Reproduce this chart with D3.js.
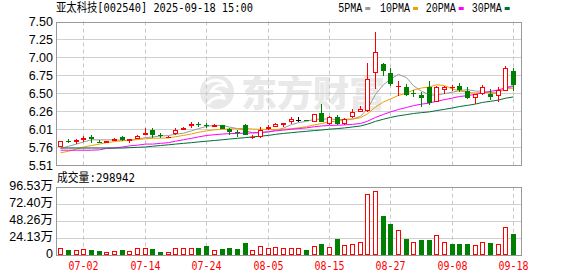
<!DOCTYPE html>
<html>
<head>
<meta charset="utf-8">
<script src="https://cdn.jsdelivr.net/npm/d3@7"></script>
<style>body{margin:0;background:#fff}</style>
</head>
<body>
<div class="canvas"></div>
<script>
// trading days 06-27 .. 09-18
const dates = ['06-27','06-30',
  '07-01','07-02','07-03','07-04','07-07','07-08','07-09','07-10','07-11','07-14','07-15','07-16','07-17','07-18','07-21','07-22','07-23','07-24','07-25','07-28','07-29','07-30','07-31',
  '08-01','08-04','08-05','08-06','08-07','08-08','08-11','08-12','08-13','08-14','08-15','08-18','08-19','08-20','08-21','08-22','08-25','08-26','08-27','08-28','08-29',
  '09-01','09-02','09-03','09-04','09-05','09-08','09-09','09-10','09-11','09-12','09-15','09-16','09-17','09-18']

const opens  = [5.76,5.845,5.83,5.85,5.90,5.835,5.81,5.86,5.90,5.855,5.87,5.92,5.99,5.92,5.895,5.94,6.015,6.045,6.075,6.07,
  6.055,6.06,6.015,5.97,6.07,5.895,5.90,6.025,6.04,6.085,6.10,6.14,6.135,6.10,6.23,6.08,6.17,6.08,6.17,6.25,
  6.26,6.78,6.91,6.79,6.60,6.585,6.515,6.485,6.59,6.385,6.555,6.585,6.60,6.54,6.435,6.49,6.50,6.46,6.54,6.815]
const highs  = [5.84,5.87,5.875,5.91,5.92,5.85,5.845,5.89,5.91,5.875,5.93,6.03,6.03,5.95,5.91,6.03,6.04,6.10,6.10,6.09,
  6.08,6.065,6.02,6.00,6.085,5.925,6.04,6.065,6.09,6.09,6.17,6.175,6.14,6.22,6.35,6.19,6.20,6.16,6.28,6.33,
  6.93,7.35,6.93,6.86,6.68,6.64,6.55,6.525,6.67,6.61,6.60,6.62,6.645,6.59,6.49,6.62,6.57,6.59,6.885,6.85]
const lows   = [5.76,5.81,5.805,5.83,5.82,5.81,5.81,5.85,5.845,5.81,5.865,5.92,5.89,5.885,5.88,5.93,5.99,6.02,6.035,6.03,
  6.04,6.01,5.93,5.90,5.92,5.875,5.89,6.00,6.04,6.035,6.075,6.10,6.115,6.10,6.10,6.07,6.065,6.07,6.165,6.25,
  6.25,6.57,6.74,6.60,6.46,6.46,6.45,6.31,6.34,6.385,6.495,6.54,6.52,6.42,6.355,6.48,6.41,6.38,6.54,6.53]
const closes = [5.84,5.84,5.86,5.89,5.87,5.83,5.84,5.87,5.85,5.865,5.91,5.95,5.92,5.915,5.90,6.00,6.02,6.08,6.07,6.06,
  6.065,6.015,5.97,5.965,5.93,5.905,6.00,6.035,6.08,6.09,6.145,6.14,6.12,6.22,6.10,6.17,6.08,6.15,6.24,6.28,
  6.70,7.075,6.82,6.63,6.61,6.475,6.505,6.445,6.375,6.59,6.59,6.59,6.55,6.445,6.49,6.59,6.45,6.55,6.85,6.62]

// volume in 万 shares, and bar colour direction (1 red, -1 green)
const volumes = [9.4,7.1,7.1,8.0,7.1,5.7,4.2,5.7,7.1,5.7,9.4,9.4,8.5,4.2,4.2,10.4,9.4,9.4,9.4,12.7,
  7.1,8.5,9.4,8.5,16.5,7.1,12.2,9.9,10.8,9.9,9.9,9.9,7.1,12.2,15.5,10.8,22.6,13.7,15.5,18.0,
  86.2,90.0,55.1,43.8,35.8,22.6,18.0,21.2,21.2,27.8,18.0,15.5,15.5,15.5,13.7,18.0,17.0,15.1,39.1,29.8942]
const volDir = [1,-1,1,1,-1,-1,1,1,-1,1,1,1,-1,-1,1,1,1,1,-1,-1,
  1,-1,-1,-1,-1,1,1,1,1,1,1,1,-1,1,-1,1,-1,1,1,1,
  1,1,-1,-1,1,-1,1,-1,-1,1,1,-1,-1,-1,1,1,-1,1,1,-1]

// moving averages as drawn
const ma5  = [5.74,5.77,5.80,5.83,5.86,5.858,5.858,5.86,5.852,5.851,5.867,5.889,5.899,5.912,5.919,5.937,5.951,5.983,6.014,6.046,
  6.059,6.058,6.036,6.015,5.989,5.957,5.954,5.967,5.99,6.022,6.07,6.098,6.115,6.143,6.145,6.15,6.138,6.144,6.148,6.184,
  6.29,6.489,6.623,6.701,6.767,6.722,6.608,6.533,6.482,6.478,6.501,6.52,6.541,6.555,6.535,6.535,6.505,6.505,6.586,6.612]
const ma10 = [5.68,5.70,5.73,5.76,5.78,5.80,5.82,5.835,5.845,5.856,5.863,5.874,5.880,5.882,5.885,5.902,5.920,5.941,5.963,5.983,
  5.998,6.005,6.010,6.015,6.018,6.008,6.006,6.002,6.003,6.006,6.014,6.026,6.041,6.067,6.084,6.110,6.118,6.130,6.146,6.165,
  6.220,6.314,6.384,6.425,6.476,6.506,6.549,6.578,6.592,6.623,6.612,6.564,6.537,6.519,6.507,6.518,6.513,6.523,6.571,6.574]
const ma20 = [5.715,5.715,5.715,5.715,5.715,5.72,5.74,5.745,5.76,5.775,5.785,5.80,5.80,5.81,5.82,5.84,5.86,5.88,5.90,5.919,
  5.930,5.939,5.945,5.948,5.951,5.955,5.963,5.971,5.983,5.994,6.006,6.015,6.025,6.041,6.051,6.059,6.062,6.066,6.074,6.085,
  6.117,6.170,6.212,6.246,6.280,6.308,6.333,6.354,6.369,6.394,6.416,6.439,6.460,6.472,6.491,6.512,6.531,6.551,6.581,6.598]
const ma30 = [5.745,5.745,5.745,5.745,5.745,5.745,5.745,5.745,5.745,5.75,5.755,5.76,5.77,5.78,5.79,5.80,5.81,5.82,5.83,5.84,
  5.85,5.86,5.87,5.88,5.89,5.90,5.91,5.92,5.935,5.948,5.958,5.968,5.977,5.988,5.995,6.007,6.015,6.024,6.037,6.051,
  6.077,6.115,6.145,6.169,6.192,6.208,6.224,6.236,6.247,6.264,6.282,6.301,6.321,6.337,6.355,6.378,6.393,6.410,6.436,6.454]

const priceTicks = ['5.51','5.76','6.01','6.26','6.50','6.75','7.00','7.25','7.50']
const volTicks = ['0','24.13万','48.26万','72.40万','96.53万']
const dateTicks = ['07-02','07-14','07-24','08-05','08-15','08-27','09-08','09-18']
const maNames = ['5PMA','10PMA','20PMA','30PMA']

const RED = '#ff0000', GREEN = '#008000'
const maColors = ['#9a9a9a','#f0a000','#ff00ff','#006f35']

const W = 578, H = 276
const left = 56, right = 522
const pTop = 21.5, pBot = 165, vTop = 186.7, vBot = 255

const svg = d3.select('.canvas').append('svg')
    .attr('width', W)
    .attr('height', H)
    .style('display', 'block')

svg.append('rect').attr('width', W).attr('height', H).attr('fill', '#fff')

const x = d3.scaleBand().domain(dates).range([56.5, 517]).paddingInner(0)
const cx = d => Math.round(x(d) + x.bandwidth() / 2) + 0.5
const y = d3.scaleLinear().domain([5.51, 7.50]).range([pBot, pTop])
const yv = d3.scaleLinear().domain([0, 96.53]).range([vBot, vTop])
const crisp = v => Math.round(v) + 0.5

// watermark
const wm = svg.append('g').attr('opacity', 0.55)
wm.append('circle').attr('cx', 217).attr('cy', 92).attr('r', 17).attr('fill', '#d8d8d8')
wm.append('path').attr('d', 'M206,84 C214,78 224,80 226,86 C220,84 214,86 211,92 C216,90 222,92 224,98 C216,96 210,100 208,104')
    .attr('fill', 'none').attr('stroke', '#fff').attr('stroke-width', 3)
wm.append('text')
    .attr('x', 241).attr('y', 107)
    .attr('font-family', '"Noto Sans CJK SC", sans-serif')
    .attr('font-weight', 900)
    .attr('font-size', 36)
    .attr('fill', '#d8d8d8')
    .attr('textLength', 144)
    .text('东方财富')

// horizontal gridlines
const pStep = (7.50 - 5.51) / 8
priceTicks.forEach((t, k) => {
  const yy = crisp(y(5.51 + k * pStep))
  if (k > 0 && k < 8) {
    svg.append('line').attr('x1', left).attr('x2', right).attr('y1', yy).attr('y2', yy)
      .attr('stroke', '#d0d0d0').attr('stroke-width', 1)
  }
  svg.append('text')
    .attr('x', 53).attr('y', y(5.51 + k * pStep)).attr('dy', '0.36em')
    .attr('text-anchor', 'end')
    .attr('font-family', '"Liberation Sans", Arial, sans-serif')
    .attr('font-size', 12.5)
    .attr('fill', '#000')
    .text(t)
})
volTicks.forEach((t, k) => {
  const v = k * 96.53 / 4
  const yy = crisp(yv(v))
  if (k > 0 && k < 4) {
    svg.append('line').attr('x1', left).attr('x2', right).attr('y1', yy).attr('y2', yy)
      .attr('stroke', '#d0d0d0').attr('stroke-width', 1)
  }
  svg.append('text')
    .attr('x', 53).attr('y', yv(v) - 1.5).attr('dy', '0.36em')
    .attr('text-anchor', 'end')
    .attr('font-family', '"Liberation Sans", Arial, "Noto Sans CJK SC", sans-serif')
    .attr('font-size', 12.5)
    .attr('fill', '#000')
    .text(t)
})

// vertical dashed gridlines + date labels
dateTicks.forEach(d => {
  const xx = cx(d)
  ;[[pTop, pBot], [vTop, vBot]].forEach(([a, b]) => {
    svg.append('line').attr('x1', xx).attr('x2', xx).attr('y1', a).attr('y2', b)
      .attr('stroke', '#c8c8c8').attr('stroke-dasharray', '4,3')
  })
  svg.append('text')
    .attr('x', xx).attr('y', 270)
    .attr('text-anchor', 'middle')
    .attr('font-family', '"DejaVu Sans Mono", monospace')
    .attr('font-size', 12)
    .attr('fill', RED)
    .attr('textLength', 30).attr('lengthAdjust', 'spacingAndGlyphs')
    .text(d)
})

// frames
svg.append('rect').attr('x', left + 0.5).attr('y', crisp(pTop)).attr('width', right - left - 1).attr('height', crisp(pBot) - crisp(pTop))
  .attr('fill', 'none').attr('stroke', '#999')
svg.append('rect').attr('x', left + 0.5).attr('y', crisp(vTop)).attr('width', right - left - 1).attr('height', crisp(vBot) - crisp(vTop))
  .attr('fill', 'none').attr('stroke', '#999')

// moving averages
const line = d3.line().x((d, i) => cx(dates[i])).y(d => y(d))
;[ma5, ma10, ma20, ma30].forEach((arr, k) => {
  svg.append('path').attr('d', line(arr))
    .attr('fill', 'none').attr('stroke', maColors[k]).attr('stroke-width', 1)
})

// candles
const candles = svg.append('g')
dates.forEach((d, i) => {
  const o = opens[i], c = closes[i], h = highs[i], l = lows[i]
  const col = c > o ? RED : c < o ? GREEN : '#000'
  const xx = cx(d)
  const top = Math.round(y(Math.max(o, c))), bot = Math.round(y(Math.min(o, c)))
  const yh = Math.round(y(h)), yl = Math.round(y(l))
  if (bot - top < 1) {
    candles.append('line').attr('x1', xx).attr('x2', xx).attr('y1', yh).attr('y2', yl).attr('stroke', col)
    candles.append('line').attr('x1', xx - 2.5).attr('x2', xx + 2.5).attr('y1', top + 0.5).attr('y2', top + 0.5).attr('stroke', col)
  } else if (c > o) {
    if (yh < top) candles.append('line').attr('x1', xx).attr('x2', xx).attr('y1', yh).attr('y2', top).attr('stroke', col)
    if (yl > bot) candles.append('line').attr('x1', xx).attr('x2', xx).attr('y1', bot).attr('y2', yl).attr('stroke', col)
    candles.append('rect').attr('x', xx - 2).attr('y', top + 0.5).attr('width', 4).attr('height', Math.max(1, bot - top - 1))
      .attr('fill', '#fff').attr('stroke', col)
  } else {
    candles.append('line').attr('x1', xx).attr('x2', xx).attr('y1', yh).attr('y2', yl).attr('stroke', col)
    candles.append('rect').attr('x', xx - 2.5).attr('y', top).attr('width', 5).attr('height', bot - top)
      .attr('fill', col)
  }
})

// volume bars
const bars = svg.append('g')
dates.forEach((d, i) => {
  const xx = cx(d)
  const t = Math.round(yv(volumes[i]))
  if (volDir[i] > 0) {
    bars.append('rect').attr('x', xx - 2).attr('y', t + 0.5).attr('width', 4).attr('height', vBot - t - 1)
      .attr('fill', '#fff').attr('stroke', RED)
  } else {
    bars.append('rect').attr('x', xx - 2.5).attr('y', t).attr('width', 5).attr('height', vBot - t)
      .attr('fill', GREEN)
  }
})

// title and volume caption
svg.append('text')
  .attr('x', 56).attr('y', 11.5)
  .attr('font-family', '"DejaVu Sans Mono", "Noto Sans CJK SC", monospace')
  .attr('font-size', 12)
  .attr('textLength', 197).attr('lengthAdjust', 'spacingAndGlyphs')
  .text('亚太科技[002540] 2025-09-18 15:00')

svg.append('text')
  .attr('x', 57).attr('y', 182)
  .attr('font-family', '"DejaVu Sans Mono", "Noto Sans CJK SC", monospace')
  .attr('font-size', 12)
  .attr('textLength', 78).attr('lengthAdjust', 'spacingAndGlyphs')
  .text('成交量:' + Math.round(volumes[volumes.length - 1] * 10000))

// legend
const legX = [338.3, 380, 425.7, 471.7]
maNames.forEach((n, k) => {
  const tl = n.length * 6
  svg.append('text')
    .attr('x', legX[k]).attr('y', 11.5)
    .attr('font-family', '"Liberation Mono", "Courier New", monospace')
    .attr('font-size', 12)
    .attr('textLength', tl).attr('lengthAdjust', 'spacingAndGlyphs')
    .text(n)
  svg.append('rect')
    .attr('x', legX[k] + tl + 3).attr('y', 7).attr('width', 5).attr('height', 3)
    .attr('fill', maColors[k])
})
</script>
</body>
</html>
